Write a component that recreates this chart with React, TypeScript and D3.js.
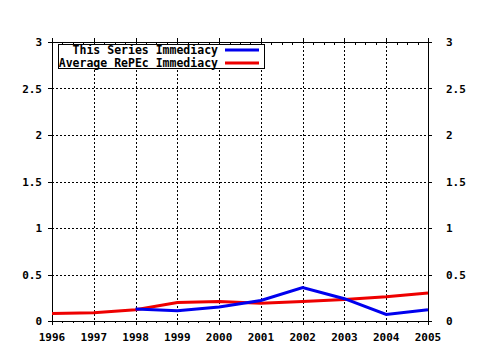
import * as d3 from 'd3';
import { useEffect, useRef } from 'react';

// chart values
const years = [1996, 1997, 1998, 1999, 2000, 2001, 2002, 2003, 2004, 2005];
const seriesYears = [1998, 1999, 2000, 2001, 2002, 2003, 2004, 2005];
const seriesImmediacy = [0.13, 0.11, 0.15, 0.22, 0.36, 0.24, 0.07, 0.12];
const repecImmediacy = [0.08, 0.09, 0.12, 0.2, 0.21, 0.19, 0.21, 0.23, 0.26, 0.3];
const yTicks = [0, 0.5, 1, 1.5, 2, 2.5, 3];
const legendLabels = ['This Series Immediacy', 'Average RePEc Immediacy'];
const legendColors = ['#0000ee', '#ee0000'];

const App = () => {
    const ref = useRef<SVGSVGElement>(null);

    useEffect(() => {
        const W = 480;
        const H = 350;
        const left = 52, right = 428, top = 42, bottom = 321;
        const font = '"DejaVu Sans Mono", monospace';

        const svg = d3.select(ref.current);
        svg.selectAll('*').remove();

        svg.append('rect').attr('width', W).attr('height', H).attr('fill', '#fff');

        const x = d3.scaleLinear().domain([1996, 2005]).range([left, right]);
        const y = d3.scaleLinear().domain([0, 3]).range([bottom, top]);

        // dotted grid
        const grid = svg.append('g')
            .attr('stroke', '#000')
            .attr('stroke-width', 1)
            .attr('stroke-dasharray', '2,2')
            .attr('shape-rendering', 'crispEdges');
        grid.selectAll('.gx')
            .data(years.slice(1, -1))
            .enter()
            .append('line')
            .attr('x1', (d) => Math.round(x(d)) + 0.5)
            .attr('x2', (d) => Math.round(x(d)) + 0.5)
            .attr('y1', top)
            .attr('y2', bottom);
        grid.selectAll('.gy')
            .data(yTicks.slice(1, -1))
            .enter()
            .append('line')
            .attr('x1', left)
            .attr('x2', right)
            .attr('y1', (d) => Math.round(y(d)) + 0.5)
            .attr('y2', (d) => Math.round(y(d)) + 0.5);

        // frame
        const frame = svg.append('g')
            .attr('stroke', '#000')
            .attr('stroke-width', 1)
            .attr('shape-rendering', 'crispEdges');
        frame.append('rect')
            .attr('x', left + 0.5)
            .attr('y', top + 0.5)
            .attr('width', right - left)
            .attr('height', bottom - top)
            .attr('fill', 'none');

        // major ticks
        years.forEach((yr) => {
            const px = Math.round(x(yr)) + 0.5;
            frame.append('line').attr('x1', px).attr('x2', px).attr('y1', bottom).attr('y2', bottom + 4);
            frame.append('line').attr('x1', px).attr('x2', px).attr('y1', top - 4).attr('y2', top);
        });
        // minor ticks, four per year
        const minor = d3.range(1996, 2005.001, 0.25).filter((v) => v % 1 !== 0);
        minor.forEach((v) => {
            const px = Math.round(x(v)) + 0.5;
            frame.append('line').attr('x1', px).attr('x2', px).attr('y1', top).attr('y2', top + 3);
            frame.append('line').attr('x1', px).attr('x2', px).attr('y1', bottom).attr('y2', bottom + 2);
        });
        yTicks.forEach((t) => {
            const py = Math.round(y(t)) + 0.5;
            frame.append('line').attr('x1', left - 4).attr('x2', left).attr('y1', py).attr('y2', py);
            frame.append('line').attr('x1', right).attr('x2', right + 4).attr('y1', py).attr('y2', py);
        });

        // tick labels
        const labels = svg.append('g')
            .style('font-family', font)
            .style('font-weight', 'bold')
            .style('font-size', '11px')
            .attr('fill', '#000');
        labels.selectAll('.xl')
            .data(years)
            .enter()
            .append('text')
            .attr('x', (d) => x(d))
            .attr('y', 341)
            .attr('text-anchor', 'middle')
            .text((d) => d);
        labels.selectAll('.yl')
            .data(yTicks)
            .enter()
            .append('text')
            .attr('x', 42)
            .attr('y', (d) => y(d) + 4)
            .attr('text-anchor', 'end')
            .text((d) => d);
        labels.selectAll('.yr')
            .data(yTicks)
            .enter()
            .append('text')
            .attr('x', 446)
            .attr('y', (d) => y(d) + 4)
            .attr('text-anchor', 'start')
            .text((d) => d);

        // lines
        const line = d3.line<[number, number]>()
            .x((d) => x(d[0]))
            .y((d) => y(d[1]));
        svg.append('path')
            .datum(years.map((yr, i) => [yr, repecImmediacy[i]] as [number, number]))
            .attr('d', line)
            .attr('fill', 'none')
            .attr('stroke', legendColors[1])
            .attr('stroke-width', 3);
        svg.append('path')
            .datum(seriesYears.map((yr, i) => [yr, seriesImmediacy[i]] as [number, number]))
            .attr('d', line)
            .attr('fill', 'none')
            .attr('stroke', legendColors[0])
            .attr('stroke-width', 3);

        // legend
        const legend = svg.append('g');
        legend.append('rect')
            .attr('x', 58.5)
            .attr('y', 44.5)
            .attr('width', 206)
            .attr('height', 24)
            .attr('fill', '#fff')
            .attr('stroke', '#000')
            .attr('shape-rendering', 'crispEdges');
        legendLabels.forEach((lab, i) => {
            const ly = 50 + i * 13;
            legend.append('text')
                .attr('x', 218)
                .attr('y', ly + 4)
                .attr('text-anchor', 'end')
                .style('font-family', font)
                .style('font-weight', 'bold')
                .style('font-size', '11.5px')
                .text(lab);
            legend.append('line')
                .attr('x1', 225)
                .attr('x2', 259)
                .attr('y1', ly)
                .attr('y2', ly)
                .attr('stroke', legendColors[i])
                .attr('stroke-width', 3);
        });
    }, []);

    return (
        <svg
            ref={ref}
            width={480}
            height={350}
            style={{ position: 'absolute', left: 0, top: 0, display: 'block' }}
        />
    );
};

export default App;
